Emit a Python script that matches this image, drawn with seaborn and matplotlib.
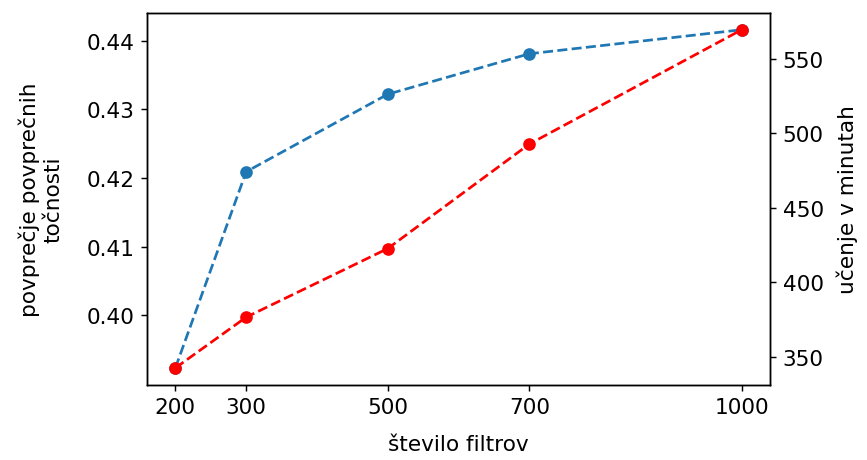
import matplotlib
matplotlib.use("Agg")
import matplotlib.pyplot as plt
import seaborn as sns

sns.set_style("ticks")
plt.rcParams['font.family'] = ['DejaVu Sans']
plt.rcParams['text.color'] = 'black'
plt.rcParams['axes.labelcolor'] = 'black'
plt.rcParams['xtick.color'] = 'black'
plt.rcParams['ytick.color'] = 'black'

filtri = [200, 300, 500, 700, 1000]
tocnost = [0.3923, 0.4209, 0.4322, 0.4381, 0.4416]
cas_ucenja = [342.7, 376.7, 422.7, 492.7, 569.3]

fs = 12

fig = plt.figure(figsize=(6.67, 3.546), dpi=130)
ax = fig.add_axes([0.1696, 0.163, 0.7184, 0.807])

sns.lineplot(x=filtri, y=tocnost, ax=ax, color='#1f77b4', marker='o',
             linestyle='--', markeredgewidth=0, markersize=7, linewidth=1.5)
ax.set_xlabel("število filtrov", fontsize=fs, labelpad=9)
ax.set_ylabel("povprečje povprečnih\ntočnosti", fontsize=fs, labelpad=13)
ax.set_xticks(filtri)
ax.set_yticks([0.40, 0.41, 0.42, 0.43, 0.44])
ax.tick_params(labelsize=fs)

ax2 = ax.twinx()
sns.lineplot(x=filtri, y=cas_ucenja, ax=ax2, color='red', marker='o',
             linestyle='--', markeredgewidth=0, markersize=7, linewidth=1.5)
ax2.set_ylabel("učenje v minutah", fontsize=fs, labelpad=7)
ax2.set_yticks([350, 400, 450, 500, 550])
ax2.tick_params(labelsize=fs)

for a in (ax, ax2):
    for s in a.spines.values():
        s.set_color('black')
        s.set_linewidth(0.8)

fig.savefig("out.png", dpi=130)
